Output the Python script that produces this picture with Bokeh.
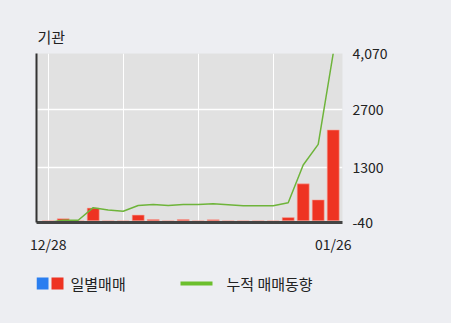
from bokeh.plotting import figure
from bokeh.layouts import column
from bokeh.models import Range1d, LinearAxis, FixedTicker, ColumnDataSource
from bokeh.core.properties import value
from bokeh.embed import file_html
from bokeh.resources import INLINE

# ---- data ----
dates = ["12/28", "12/29", "12/30", "01/04", "01/05", "01/06", "01/07", "01/08",
         "01/11", "01/12", "01/13", "01/14", "01/15", "01/18", "01/19", "01/20",
         "01/21", "01/22", "01/25", "01/26"]
daily = [0, 50, 0, 310, 0, 0, 140, 30, 0, 30, 0, 25, 0, 0, 0, 0, 80, 900, 510, 2210]
cumulative = [-40, 15, 15, 320, 265, 235, 375, 400, 375, 400, 400, 415, 390, 365,
              365, 365, 440, 1360, 1860, 4070]
y_ticks = [-40, 1300, 2700, 4070]
y_tick_labels = ["-40", "1300", "2700", "4,070"]
x_tick_idx = [0, 19]
title_text = "기관"
legend_labels = ["일별매매", "누적 매매동향"]
legend_colors = ["#2a7ef0", "#ee3322", "#6cbf2d"]

FONT = "Noto Sans CJK KR"
BG = "#edeef2"
TXT = "#222222"
FL, FR = 36, 342  # plot frame left/right in page pixels

idx = list(range(len(dates)))
colors = ["#ee3322" if v >= 0 else "#2a7ef0" for v in daily]
src = ColumnDataSource(dict(x=idx, top=daily, color=colors, cum=cumulative))

p = figure(width=451, height=260, output_backend="svg", toolbar_location=None,
           x_range=Range1d(-0.78, 19.62), y_range=Range1d(y_ticks[0], y_ticks[-1]),
           x_axis_location=None, y_axis_location=None,
           min_border_left=FL, min_border_right=451 - FR, min_border_top=53,
           min_border_bottom=38, title=title_text)
p.background_fill_color = "#e1e1e1"
p.border_fill_color = BG
p.outline_line_color = None
p.title.text_font = FONT
p.title.text_font_size = "15px"
p.title.text_font_style = "normal"
p.title.text_color = TXT
p.title.align = "left"
p.title.offset = 1
p.title.standoff = 13

p.xgrid.ticker = FixedTicker(ticks=[0, 5, 10, 15])
p.ygrid.ticker = FixedTicker(ticks=y_ticks[1:])
p.xgrid.grid_line_color = "white"
p.ygrid.grid_line_color = "white"
p.ygrid.grid_line_width = 1.5

p.vbar(x="x", top="top", bottom=0, width=0.8, fill_color="color",
       line_color="#f7a99f", line_width=0.6, source=src)
p.line(x="x", y="cum", line_color="#6eb43a", line_width=1.5, source=src)

# left axis (line only)
la = LinearAxis(ticker=FixedTicker(ticks=[]), axis_line_color="#333333",
                axis_line_width=2, major_tick_line_color=None,
                minor_tick_line_color=None, major_tick_out=0, major_tick_in=0)
p.add_layout(la, "left")

# right axis
ra = LinearAxis(ticker=FixedTicker(ticks=y_ticks),
                major_label_overrides={t: l for t, l in zip(y_ticks, y_tick_labels)},
                axis_line_color=None, major_tick_line_color=None,
                minor_tick_line_color=None, major_tick_out=0, major_tick_in=0,
                major_label_standoff=10, major_label_text_font=FONT,
                major_label_text_font_size="14px", major_label_text_color=TXT)
p.add_layout(ra, "right")

# bottom axis
ba = LinearAxis(ticker=FixedTicker(ticks=x_tick_idx),
                major_label_overrides={i: dates[i] for i in x_tick_idx},
                axis_line_color="#444444", axis_line_width=3,
                major_tick_line_color=None, minor_tick_line_color=None,
                major_tick_out=0, major_tick_in=0,
                major_label_standoff=11, major_label_text_font=FONT,
                major_label_text_font_size="14px", major_label_text_color=TXT)
p.add_layout(ba, "below")

# ---- legend strip (page-pixel x coordinates, y downward) ----
lg = figure(width=451, height=63, output_backend="svg", toolbar_location=None,
            x_range=Range1d(FL, FR), y_range=Range1d(63, 0),
            x_axis_location=None, y_axis_location=None,
            min_border_left=FL, min_border_right=451 - FR,
            min_border_top=0, min_border_bottom=0)
lg.background_fill_color = BG
lg.border_fill_color = BG
lg.outline_line_color = None
lg.grid.visible = False
lg.quad(left=[36, 51], right=[48, 63], top=[17, 17], bottom=[29, 29],
        fill_color=legend_colors[:2], line_color=None)
lg.quad(left=[180], right=[212], top=[21], bottom=[25],
        fill_color=legend_colors[2], line_color=None)
lg.text(x=[70, 226], y=[23, 23], text=legend_labels, text_font=value(FONT),
        text_font_size="15px", text_baseline="middle", text_color=TXT)

layout = column(p, lg, spacing=0, styles={"background-color": BG})
open("out.html", "w").write(file_html(layout, INLINE))
